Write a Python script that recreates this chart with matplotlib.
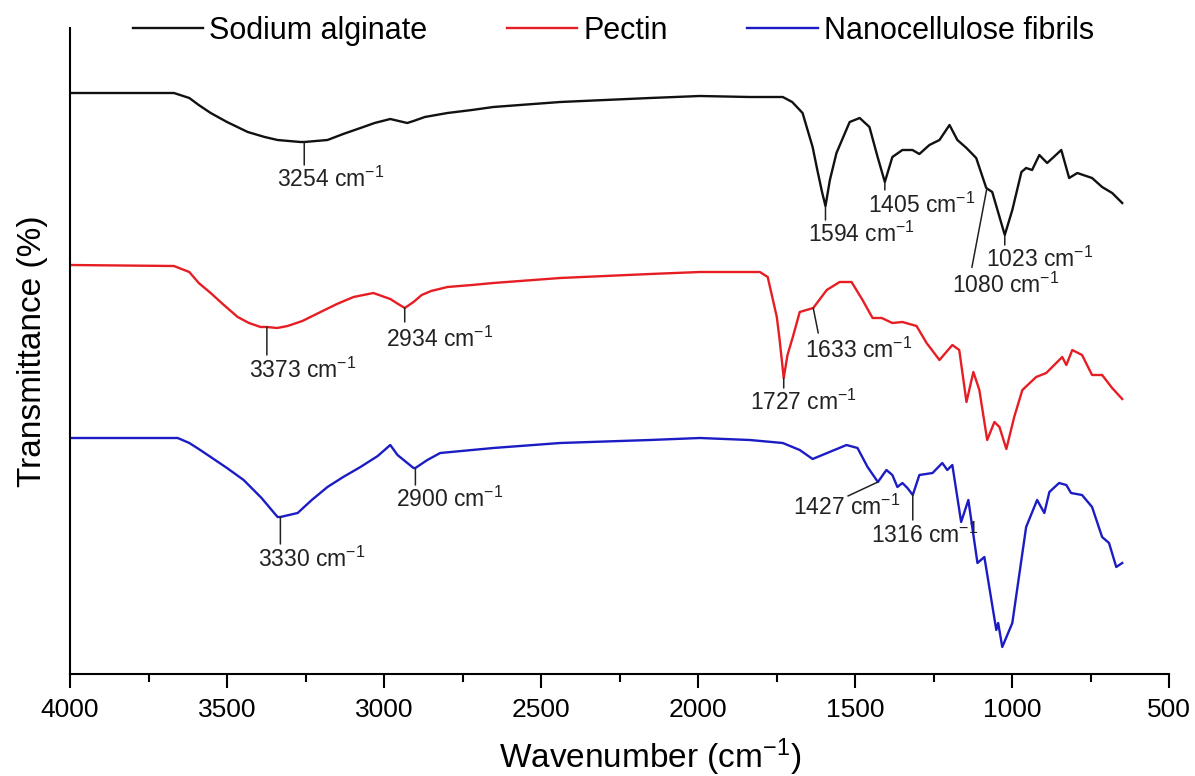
import numpy as np
import matplotlib
matplotlib.use("Agg")
import matplotlib.pyplot as plt
from matplotlib.ticker import MultipleLocator

plt.rcParams['font.family'] = ['Liberation Sans', 'DejaVu Sans']
plt.rcParams['mathtext.fontset'] = 'custom'
plt.rcParams['mathtext.rm'] = 'Liberation Sans'
plt.rcParams['mathtext.it'] = 'Liberation Sans:italic'
plt.rcParams['mathtext.bf'] = 'Liberation Sans:bold'
plt.rcParams['mathtext.default'] = 'regular'

# FTIR spectra, stacked with offsets (arbitrary transmittance units)
alginate_wn = [4000, 3669, 3620, 3590, 3552, 3500, 3434, 3380, 3339, 3266, 3254, 3180, 3130,
               3075, 3030, 2980, 2926, 2906, 2870, 2798, 2720, 2652, 2439, 2153, 1994, 1835,
               1730, 1700, 1667, 1635, 1620, 1605, 1594, 1580, 1559, 1517, 1485, 1454, 1428,
               1405, 1381, 1349, 1317, 1295, 1263, 1231, 1199, 1174, 1145, 1114, 1082, 1063,
               1023, 999, 970, 955, 936, 913, 888, 843, 818, 792, 745, 713, 681, 649]
alginate_t = [567, 567, 562, 555, 547, 538, 528, 523, 520, 518, 518, 520, 526,
              532, 537, 541, 537, 539, 543, 547, 550, 553, 558, 562, 564, 563,
              563, 558, 547, 513, 490, 468, 454, 480, 507, 538, 542, 533, 503,
              478, 503, 510, 510, 506, 515, 520, 535, 520, 512, 502, 472, 468,
              425, 450, 488, 492, 490, 505, 497, 510, 482, 487, 482, 473, 467, 457]

pectin_wn = [4000, 3669, 3620, 3590, 3552, 3510, 3466, 3430, 3393, 3373, 3340, 3307, 3260,
             3202, 3150, 3097, 3034, 2980, 2960, 2934, 2906, 2880, 2850, 2798, 2720, 2652,
             2439, 2153, 1994, 1803, 1778, 1749, 1740, 1727, 1715, 1698, 1676, 1633, 1590,
             1549, 1511, 1476, 1444, 1415, 1381, 1349, 1304, 1272, 1231, 1190, 1168, 1145,
             1123, 1104, 1079, 1056, 1040, 1018, 993, 967, 923, 891, 840, 827, 808, 777,
             745, 713, 681, 649]
pectin_t = [395, 394, 388, 377, 367, 355, 343, 337, 333, 333, 332, 334, 339,
            348, 356, 363, 367, 361, 357, 352, 358, 365, 369, 373, 375, 377,
            382, 386, 388, 388, 383, 343, 320, 282, 305, 323, 348, 352, 370,
            378, 378, 360, 342, 342, 337, 338, 334, 317, 300, 315, 310, 258,
            288, 270, 220, 238, 233, 211, 243, 270, 283, 287, 303, 295, 310, 305,
            285, 285, 272, 261]

nfc_wn = [4000, 3657, 3620, 3590, 3552, 3500, 3447, 3390, 3339, 3330, 3275, 3230, 3180,
          3130, 3075, 3020, 2980, 2957, 2906, 2900, 2862, 2821, 2652, 2439, 2153, 1994,
          1835, 1730, 1676, 1635, 1581, 1527, 1492, 1460, 1427, 1400, 1381, 1365, 1349,
          1333, 1316, 1295, 1253, 1222, 1206, 1190, 1162, 1139, 1110, 1088, 1050, 1044,
          1031, 999, 955, 920, 897, 881, 850, 827, 812, 777, 745, 713, 691, 668, 649]
nfc_t = [222, 222, 217, 211, 203, 192, 180, 162, 143, 143, 147, 160, 173,
         183, 193, 204, 215, 205, 192, 192, 200, 207, 212, 217, 220, 222,
         220, 217, 210, 201, 208, 215, 212, 193, 178, 190, 185, 173, 177,
         172, 165, 185, 187, 197, 190, 195, 138, 160, 97, 103, 30, 37,
         13, 37, 133, 160, 147, 168, 177, 175, 167, 165, 153, 123, 117, 93, 97]

series_names = ['Sodium alginate', 'Pectin', 'Nanocellulose fibrils']
series_colors = ['#111111', '#e61e24', '#1c1cc4']

# peak labels: (series index, wavenumber)
peak_series = [0, 0, 0, 0, 0, 1, 1, 1, 1, 2, 2, 2, 2]
peak_wn = [3254, 1594, 1405, 1080, 1023, 3373, 2934, 1727, 1633, 3330, 2900, 1427, 1316]

# leader end and label offsets in pixels from the peak point
leader_end = [(0, -23), (0, -14), (0, -8), (-15, -79), (0, -10), (0, -28), (0, -14), (0, -10),
              (5, -25), (0, -27), (0, -17), (-30, -14), (0, -25)]
label_pos = [(-27, -25), (-17, -16), (-17, -11), (-35, -84), (-19, -12), (-18, -31), (-19, -19),
             (-34, -12), (-8, -30), (-22, -30), (-19, -19), (-85, -13), (-42, -28)]

fig = plt.figure(figsize=(11.95, 7.76), dpi=100)
ax = fig.add_axes([70 / 1195, 102 / 776, 1099 / 1195, 646 / 776])

spectra = [(alginate_wn, alginate_t), (pectin_wn, pectin_t), (nfc_wn, nfc_t)]
for (wn, t), name, c in zip(spectra, series_names, series_colors):
    ax.plot(wn, t, color=c, lw=1.7, label=name, solid_joinstyle='round')

for s, w, le, lp in zip(peak_series, peak_wn, leader_end, label_pos):
    wn, t = spectra[s]
    y = np.interp(w, wn[::-1], t[::-1])
    ax.annotate('', xy=(w, y), xytext=le, textcoords='offset pixels',
                arrowprops=dict(arrowstyle='-', color='#222222', lw=1.1,
                                shrinkA=0, shrinkB=0))
    ax.annotate(f'{w} cm$^{{-1}}$', xy=(w, y), xytext=lp, textcoords='offset pixels',
                ha='left', va='top', fontsize=16.5, color='#222222')

ax.set_xlim(4000, 500)
ax.set_ylim(-14, 632)
ax.xaxis.set_major_locator(MultipleLocator(500))
ax.xaxis.set_minor_locator(MultipleLocator(250))
ax.tick_params(axis='x', which='major', length=10, width=1.5, labelsize=19, pad=7)
ax.tick_params(axis='x', which='minor', length=6, width=1.5)
ax.set_yticks([])
for side in ['top', 'right']:
    ax.spines[side].set_visible(False)
for side in ['left', 'bottom']:
    ax.spines[side].set_linewidth(1.5)

ax.set_xlabel('Wavenumber (cm$^{-1}$)', fontsize=24)
ax.xaxis.set_label_coords(0.528, -0.097)
ax.set_ylabel('Transmittance (%)', fontsize=24, labelpad=16)

fig.legend(loc='center left', bbox_to_anchor=(133 / 1195, 1 - 31 / 776), ncol=3,
           frameon=False, fontsize=22, handlelength=2.3, handletextpad=0.2,
           columnspacing=2.6, borderpad=0, borderaxespad=0)

fig.savefig('out.png', dpi=100, facecolor='white')
